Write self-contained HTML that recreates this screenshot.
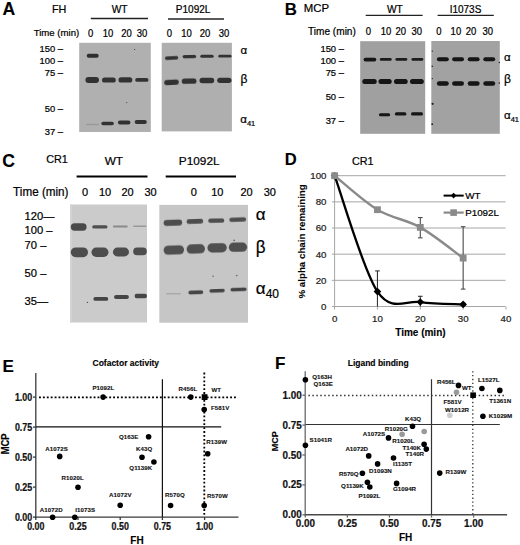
<!DOCTYPE html>
<html><head><meta charset="utf-8"><style>
html,body{margin:0;padding:0;background:#fff;width:520px;height:545px;overflow:hidden}
svg{display:block;font-family:"Liberation Sans",sans-serif}
</style></head><body>
<svg width="520" height="545" viewBox="0 0 520 545">
<defs>
<filter id="b1" x="-20%" y="-50%" width="140%" height="200%"><feGaussianBlur stdDeviation="0.55"/></filter>
</defs>
<rect width="520" height="545" fill="#fff"/>
<text x="2.50" y="15.00" font-size="17.6" font-weight="bold" text-anchor="start" fill="#000"  stroke="#000" stroke-width="0.12">A</text>
<text x="52.00" y="12.80" font-size="10.8" font-weight="normal" text-anchor="start" fill="#000"  stroke="#000" stroke-width="0.22">FH</text>
<text x="119.60" y="12.80" font-size="10.2" font-weight="normal" text-anchor="middle" fill="#000"  stroke="#000" stroke-width="0.22">WT</text>
<line x1="90.80" y1="18.50" x2="148.00" y2="18.50" stroke="#222" stroke-width="1.3" />
<text x="193.10" y="12.80" font-size="10.0" font-weight="normal" text-anchor="middle" fill="#000"  stroke="#000" stroke-width="0.22">P1092L</text>
<line x1="168.00" y1="19.00" x2="224.00" y2="19.00" stroke="#222" stroke-width="1.3" />
<text x="33.70" y="36.40" font-size="9.6" font-weight="normal" text-anchor="start" fill="#000"  stroke="#000" stroke-width="0.22">Time (min)</text>
<text x="0" y="0" font-size="9.5" font-weight="normal" text-anchor="middle" fill="#000" transform="translate(90.70 37.00) scale(1.0 1.1)"  stroke="#000" stroke-width="0.22">0</text>
<text x="0" y="0" font-size="9.5" font-weight="normal" text-anchor="middle" fill="#000" transform="translate(108.00 37.00) scale(1.0 1.1)"  stroke="#000" stroke-width="0.22">10</text>
<text x="0" y="0" font-size="9.5" font-weight="normal" text-anchor="middle" fill="#000" transform="translate(126.50 37.00) scale(1.0 1.1)"  stroke="#000" stroke-width="0.22">20</text>
<text x="0" y="0" font-size="9.5" font-weight="normal" text-anchor="middle" fill="#000" transform="translate(142.00 37.00) scale(1.0 1.1)"  stroke="#000" stroke-width="0.22">30</text>
<text x="0" y="0" font-size="9.5" font-weight="normal" text-anchor="middle" fill="#000" transform="translate(169.40 37.00) scale(1.0 1.1)"  stroke="#000" stroke-width="0.22">0</text>
<text x="0" y="0" font-size="9.5" font-weight="normal" text-anchor="middle" fill="#000" transform="translate(186.50 37.00) scale(1.0 1.1)"  stroke="#000" stroke-width="0.22">10</text>
<text x="0" y="0" font-size="9.5" font-weight="normal" text-anchor="middle" fill="#000" transform="translate(205.00 37.00) scale(1.0 1.1)"  stroke="#000" stroke-width="0.22">20</text>
<text x="0" y="0" font-size="9.5" font-weight="normal" text-anchor="middle" fill="#000" transform="translate(224.00 37.00) scale(1.0 1.1)"  stroke="#000" stroke-width="0.22">30</text>
<text x="63.00" y="51.90" font-size="9.4" font-weight="normal" text-anchor="end" fill="#000"  stroke="#000" stroke-width="0.22">150 –</text>
<text x="63.00" y="64.40" font-size="9.4" font-weight="normal" text-anchor="end" fill="#000"  stroke="#000" stroke-width="0.22">100 –</text>
<text x="63.00" y="76.30" font-size="9.4" font-weight="normal" text-anchor="end" fill="#000"  stroke="#000" stroke-width="0.22">75 –</text>
<text x="63.00" y="111.80" font-size="9.4" font-weight="normal" text-anchor="end" fill="#000"  stroke="#000" stroke-width="0.22">50 –</text>
<text x="63.00" y="135.10" font-size="9.4" font-weight="normal" text-anchor="end" fill="#000"  stroke="#000" stroke-width="0.22">37 –</text>
<rect x="79.20" y="42.80" width="71.60" height="89.20" fill="#b0b0b0" />
<rect x="161.70" y="42.80" width="70.20" height="88.60" fill="#afafaf" />
<rect x="86.70" y="53.75" width="12.00" height="3.90" rx="1.95" fill="#2e2e2e" filter="url(#b1)" transform="rotate(0 92.70 55.70)"/>
<rect x="85.40" y="77.05" width="13.60" height="5.90" rx="2.95" fill="#333" filter="url(#b1)" transform="rotate(0 92.20 80.00)"/>
<rect x="102.00" y="77.40" width="13.80" height="5.20" rx="2.60" fill="#333" filter="url(#b1)" transform="rotate(0 108.90 80.00)"/>
<rect x="118.50" y="77.30" width="13.80" height="5.20" rx="2.60" fill="#333" filter="url(#b1)" transform="rotate(0 125.40 79.90)"/>
<rect x="135.20" y="77.95" width="13.30" height="3.90" rx="1.95" fill="#333" filter="url(#b1)" transform="rotate(0 141.85 79.90)"/>
<rect x="86.00" y="123.70" width="13.00" height="1.60" rx="0.80" fill="#9a9a9a" filter="url(#b1)" transform="rotate(0 92.50 124.50)"/>
<rect x="101.30" y="121.70" width="12.60" height="3.60" rx="1.80" fill="#333" filter="url(#b1)" transform="rotate(0 107.60 123.50)"/>
<rect x="117.90" y="120.60" width="12.50" height="3.80" rx="1.90" fill="#333" filter="url(#b1)" transform="rotate(0 124.15 122.50)"/>
<rect x="134.70" y="120.10" width="12.10" height="3.80" rx="1.90" fill="#333" filter="url(#b1)" transform="rotate(0 140.75 122.00)"/>
<circle cx="134.60" cy="49.50" r="0.60" fill="#333" />
<circle cx="126.80" cy="102.60" r="0.60" fill="#444" />
<rect x="164.90" y="56.30" width="13.40" height="3.40" rx="1.70" fill="#333" filter="url(#b1)" transform="rotate(-3 171.60 58.00)"/>
<rect x="182.60" y="54.95" width="13.60" height="3.30" rx="1.65" fill="#333" filter="url(#b1)" transform="rotate(-1 189.40 56.60)"/>
<rect x="200.30" y="54.70" width="13.40" height="3.00" rx="1.50" fill="#333" filter="url(#b1)" transform="rotate(0 207.00 56.20)"/>
<rect x="218.30" y="54.80" width="13.20" height="2.80" rx="1.40" fill="#333" filter="url(#b1)" transform="rotate(0 224.90 56.20)"/>
<rect x="164.20" y="79.65" width="14.60" height="5.30" rx="2.65" fill="#313131" filter="url(#b1)" transform="rotate(-3 171.50 82.30)"/>
<rect x="181.80" y="78.55" width="14.70" height="5.30" rx="2.65" fill="#313131" filter="url(#b1)" transform="rotate(-1 189.15 81.20)"/>
<rect x="199.50" y="77.85" width="14.70" height="5.30" rx="2.65" fill="#313131" filter="url(#b1)" transform="rotate(0 206.85 80.50)"/>
<rect x="217.20" y="77.65" width="14.30" height="5.30" rx="2.65" fill="#313131" filter="url(#b1)" transform="rotate(0 224.35 80.30)"/>
<text x="240.50" y="53.90" font-size="11.5" font-weight="normal" text-anchor="start" fill="#000"  stroke="#000" stroke-width="0.22">α</text>
<text x="240.50" y="83.20" font-size="12" font-weight="normal" text-anchor="start" fill="#000"  stroke="#000" stroke-width="0.22">β</text>
<text x="240.30" y="123.20" font-size="11.5" font-weight="normal" text-anchor="start" fill="#000"  stroke="#000" stroke-width="0.22">α<tspan font-size="7.5" dy="2.5">41</tspan></text>
<text x="284.70" y="14.60" font-size="16.8" font-weight="bold" text-anchor="start" fill="#000"  stroke="#000" stroke-width="0.12">B</text>
<text x="303.80" y="12.20" font-size="11.4" font-weight="normal" text-anchor="start" fill="#000"  stroke="#000" stroke-width="0.22">MCP</text>
<text x="308.00" y="34.90" font-size="10.1" font-weight="normal" text-anchor="start" fill="#000"  stroke="#000" stroke-width="0.22">Time (min)</text>
<text x="394.80" y="12.60" font-size="10.2" font-weight="normal" text-anchor="middle" fill="#000"  stroke="#000" stroke-width="0.22">WT</text>
<line x1="365.70" y1="15.40" x2="422.60" y2="15.40" stroke="#222" stroke-width="1.3" />
<text x="465.50" y="12.60" font-size="10.0" font-weight="normal" text-anchor="middle" fill="#000"  stroke="#000" stroke-width="0.22">I1073S</text>
<line x1="437.60" y1="15.40" x2="493.80" y2="15.40" stroke="#222" stroke-width="1.3" />
<text x="0" y="0" font-size="9.5" font-weight="normal" text-anchor="middle" fill="#000" transform="translate(368.50 35.40) scale(1.0 1.1)"  stroke="#000" stroke-width="0.22">0</text>
<text x="0" y="0" font-size="9.5" font-weight="normal" text-anchor="middle" fill="#000" transform="translate(386.00 35.40) scale(1.0 1.1)"  stroke="#000" stroke-width="0.22">10</text>
<text x="0" y="0" font-size="9.5" font-weight="normal" text-anchor="middle" fill="#000" transform="translate(400.70 35.40) scale(1.0 1.1)"  stroke="#000" stroke-width="0.22">20</text>
<text x="0" y="0" font-size="9.5" font-weight="normal" text-anchor="middle" fill="#000" transform="translate(416.80 35.40) scale(1.0 1.1)"  stroke="#000" stroke-width="0.22">30</text>
<text x="0" y="0" font-size="9.5" font-weight="normal" text-anchor="middle" fill="#000" transform="translate(439.00 35.40) scale(1.0 1.1)"  stroke="#000" stroke-width="0.22">0</text>
<text x="0" y="0" font-size="9.5" font-weight="normal" text-anchor="middle" fill="#000" transform="translate(455.90 35.40) scale(1.0 1.1)"  stroke="#000" stroke-width="0.22">10</text>
<text x="0" y="0" font-size="9.5" font-weight="normal" text-anchor="middle" fill="#000" transform="translate(471.00 35.40) scale(1.0 1.1)"  stroke="#000" stroke-width="0.22">20</text>
<text x="0" y="0" font-size="9.5" font-weight="normal" text-anchor="middle" fill="#000" transform="translate(487.70 35.40) scale(1.0 1.1)"  stroke="#000" stroke-width="0.22">30</text>
<text x="343.90" y="52.10" font-size="9.4" font-weight="normal" text-anchor="end" fill="#000"  stroke="#000" stroke-width="0.22">150 –</text>
<text x="343.90" y="64.40" font-size="9.4" font-weight="normal" text-anchor="end" fill="#000"  stroke="#000" stroke-width="0.22">100 –</text>
<text x="343.90" y="76.30" font-size="9.4" font-weight="normal" text-anchor="end" fill="#000"  stroke="#000" stroke-width="0.22">75 –</text>
<text x="343.90" y="100.10" font-size="9.4" font-weight="normal" text-anchor="end" fill="#000"  stroke="#000" stroke-width="0.22">50 –</text>
<text x="343.90" y="123.60" font-size="9.4" font-weight="normal" text-anchor="end" fill="#000"  stroke="#000" stroke-width="0.22">37 –</text>
<rect x="360.20" y="41.20" width="65.00" height="92.60" fill="#a0a0a0" />
<rect x="431.30" y="41.00" width="68.50" height="92.80" fill="#a2a2a2" />
<circle cx="432.30" cy="51.10" r="0.70" fill="#222" />
<circle cx="432.30" cy="66.20" r="0.80" fill="#222" />
<circle cx="432.30" cy="78.60" r="0.70" fill="#222" />
<circle cx="432.60" cy="103.80" r="1.10" fill="#222" />
<circle cx="432.20" cy="124.20" r="0.90" fill="#222" />
<circle cx="499.30" cy="62.50" r="0.70" fill="#222" />
<circle cx="499.30" cy="83.00" r="0.80" fill="#222" />
<rect x="363.60" y="57.70" width="12.70" height="3.80" rx="1.90" fill="#141414" filter="url(#b1)" transform="rotate(0 369.95 59.60)"/>
<rect x="379.80" y="58.05" width="11.90" height="2.70" rx="1.35" fill="#1c1c1c" filter="url(#b1)" transform="rotate(0 385.75 59.40)"/>
<rect x="395.40" y="58.05" width="11.90" height="2.70" rx="1.35" fill="#1c1c1c" filter="url(#b1)" transform="rotate(0 401.35 59.40)"/>
<rect x="411.50" y="58.05" width="11.80" height="2.70" rx="1.35" fill="#1c1c1c" filter="url(#b1)" transform="rotate(0 417.40 59.40)"/>
<rect x="362.30" y="79.00" width="14.40" height="5.00" rx="2.50" fill="#121212" filter="url(#b1)" transform="rotate(0 369.50 81.50)"/>
<rect x="378.50" y="79.00" width="13.20" height="5.00" rx="2.50" fill="#121212" filter="url(#b1)" transform="rotate(0 385.10 81.50)"/>
<rect x="394.00" y="79.00" width="13.70" height="5.00" rx="2.50" fill="#121212" filter="url(#b1)" transform="rotate(0 400.85 81.50)"/>
<rect x="410.00" y="79.00" width="13.80" height="5.00" rx="2.50" fill="#121212" filter="url(#b1)" transform="rotate(0 416.90 81.50)"/>
<rect x="378.90" y="113.25" width="11.30" height="3.10" rx="1.55" fill="#161616" filter="url(#b1)" transform="rotate(0 384.55 114.80)"/>
<rect x="394.80" y="112.35" width="11.60" height="3.10" rx="1.55" fill="#161616" filter="url(#b1)" transform="rotate(0 400.60 113.90)"/>
<rect x="411.00" y="112.35" width="12.00" height="3.10" rx="1.55" fill="#161616" filter="url(#b1)" transform="rotate(0 417.00 113.90)"/>
<rect x="436.90" y="57.30" width="11.90" height="4.00" rx="2.00" fill="#141414" filter="url(#b1)" transform="rotate(0 442.85 59.30)"/>
<rect x="452.10" y="57.30" width="11.90" height="4.00" rx="2.00" fill="#141414" filter="url(#b1)" transform="rotate(0 458.05 59.30)"/>
<rect x="467.70" y="57.30" width="11.90" height="4.00" rx="2.00" fill="#141414" filter="url(#b1)" transform="rotate(0 473.65 59.30)"/>
<rect x="483.30" y="57.30" width="11.90" height="4.00" rx="2.00" fill="#141414" filter="url(#b1)" transform="rotate(0 489.25 59.30)"/>
<rect x="436.90" y="81.25" width="11.90" height="4.50" rx="2.25" fill="#141414" filter="url(#b1)" transform="rotate(0 442.85 83.50)"/>
<rect x="452.10" y="81.25" width="11.90" height="4.50" rx="2.25" fill="#141414" filter="url(#b1)" transform="rotate(0 458.05 83.50)"/>
<rect x="467.70" y="81.25" width="11.90" height="4.50" rx="2.25" fill="#141414" filter="url(#b1)" transform="rotate(0 473.65 83.50)"/>
<rect x="483.30" y="81.25" width="11.90" height="4.50" rx="2.25" fill="#141414" filter="url(#b1)" transform="rotate(0 489.25 83.50)"/>
<text x="504.00" y="61.00" font-size="11.5" font-weight="normal" text-anchor="start" fill="#000"  stroke="#000" stroke-width="0.22">α</text>
<text x="504.00" y="83.40" font-size="12" font-weight="normal" text-anchor="start" fill="#000"  stroke="#000" stroke-width="0.22">β</text>
<text x="504.00" y="119.30" font-size="11.5" font-weight="normal" text-anchor="start" fill="#000"  stroke="#000" stroke-width="0.22">α<tspan font-size="7.5" dy="2.5">41</tspan></text>
<text x="2.20" y="166.50" font-size="17.6" font-weight="bold" text-anchor="start" fill="#000"  stroke="#000" stroke-width="0.12">C</text>
<text x="46.20" y="162.50" font-size="10.8" font-weight="normal" text-anchor="start" fill="#000"  stroke="#000" stroke-width="0.22">CR1</text>
<text x="113.80" y="164.70" font-size="11.8" font-weight="normal" text-anchor="middle" fill="#000"  stroke="#000" stroke-width="0.22">WT</text>
<text x="199.20" y="164.70" font-size="11.8" font-weight="normal" text-anchor="middle" fill="#000"  stroke="#000" stroke-width="0.22">P1092L</text>
<line x1="76.60" y1="176.50" x2="147.50" y2="176.50" stroke="#000" stroke-width="1.8" />
<line x1="165.70" y1="176.50" x2="236.00" y2="176.50" stroke="#000" stroke-width="1.8" />
<text x="0" y="0" font-size="11.7" font-weight="normal" text-anchor="start" fill="#000" transform="translate(13.10 196.30) scale(1.0 1.04)"  stroke="#000" stroke-width="0.22">Time (min)</text>
<text x="85.00" y="196.00" font-size="11" font-weight="normal" text-anchor="middle" fill="#000"  stroke="#000" stroke-width="0.22">0</text>
<text x="105.10" y="196.00" font-size="11" font-weight="normal" text-anchor="middle" fill="#000"  stroke="#000" stroke-width="0.22">10</text>
<text x="127.50" y="196.00" font-size="11" font-weight="normal" text-anchor="middle" fill="#000"  stroke="#000" stroke-width="0.22">20</text>
<text x="150.50" y="196.00" font-size="11" font-weight="normal" text-anchor="middle" fill="#000"  stroke="#000" stroke-width="0.22">30</text>
<text x="193.80" y="196.00" font-size="11" font-weight="normal" text-anchor="middle" fill="#000"  stroke="#000" stroke-width="0.22">0</text>
<text x="217.30" y="196.00" font-size="11" font-weight="normal" text-anchor="middle" fill="#000"  stroke="#000" stroke-width="0.22">10</text>
<text x="246.50" y="196.00" font-size="11" font-weight="normal" text-anchor="middle" fill="#000"  stroke="#000" stroke-width="0.22">20</text>
<text x="269.80" y="196.00" font-size="11" font-weight="normal" text-anchor="middle" fill="#000"  stroke="#000" stroke-width="0.22">30</text>
<text x="24.60" y="219.60" font-size="11.2" font-weight="normal" text-anchor="start" fill="#000"  stroke="#000" stroke-width="0.22">120—</text>
<text x="24.60" y="233.70" font-size="11.2" font-weight="normal" text-anchor="start" fill="#000"  stroke="#000" stroke-width="0.22">100 –</text>
<text x="24.60" y="248.60" font-size="11.2" font-weight="normal" text-anchor="start" fill="#000"  stroke="#000" stroke-width="0.22">70 –</text>
<text x="24.60" y="276.50" font-size="11.2" font-weight="normal" text-anchor="start" fill="#000"  stroke="#000" stroke-width="0.22">50 –</text>
<text x="24.60" y="304.50" font-size="11.2" font-weight="normal" text-anchor="start" fill="#000"  stroke="#000" stroke-width="0.22">35—</text>
<rect x="70.20" y="204.50" width="76.80" height="118.00" fill="#cbcbcb" />
<rect x="70.20" y="204.50" width="1.80" height="118.00" fill="#d3d3d3" />
<circle cx="87.40" cy="302.40" r="0.70" fill="#555" />
<rect x="159.30" y="204.90" width="88.70" height="117.80" fill="#c6c6c6" />
<rect x="70.80" y="223.30" width="15.80" height="7.40" rx="3.70" fill="#4a4a4a" filter="url(#b1)" transform="rotate(0 78.70 227.00)"/>
<rect x="92.20" y="225.20" width="15.30" height="3.40" rx="1.70" fill="#4f4f4f" filter="url(#b1)" transform="rotate(0 99.85 226.90)"/>
<rect x="112.90" y="225.50" width="14.80" height="2.00" rx="1.00" fill="#8a8a8a" filter="url(#b1)" transform="rotate(0 120.30 226.50)"/>
<rect x="133.00" y="225.50" width="13.50" height="1.60" rx="0.80" fill="#999" filter="url(#b1)" transform="rotate(0 139.75 226.30)"/>
<rect x="70.80" y="247.40" width="17.20" height="9.80" rx="4.90" fill="#4d4d4d" filter="url(#b1)" transform="rotate(0 79.40 252.30)"/>
<rect x="91.50" y="247.60" width="17.00" height="9.40" rx="4.70" fill="#4d4d4d" filter="url(#b1)" transform="rotate(0 100.00 252.30)"/>
<rect x="112.90" y="247.60" width="16.10" height="8.80" rx="4.40" fill="#4d4d4d" filter="url(#b1)" transform="rotate(0 120.95 252.00)"/>
<rect x="133.20" y="247.60" width="13.60" height="7.60" rx="3.80" fill="#4d4d4d" filter="url(#b1)" transform="rotate(0 140.00 251.40)"/>
<rect x="93.40" y="297.00" width="14.80" height="3.80" rx="1.90" fill="#444" filter="url(#b1)" transform="rotate(0 100.80 298.90)"/>
<rect x="114.00" y="294.90" width="14.90" height="4.20" rx="2.10" fill="#444" filter="url(#b1)" transform="rotate(0 121.45 297.00)"/>
<rect x="134.60" y="293.80" width="12.40" height="4.40" rx="2.20" fill="#444" filter="url(#b1)" transform="rotate(0 140.80 296.00)"/>
<rect x="163.60" y="219.75" width="18.60" height="6.10" rx="3.05" fill="#4d4d4d" filter="url(#b1)" transform="rotate(-2 172.90 222.80)"/>
<rect x="186.60" y="219.10" width="16.60" height="4.60" rx="2.30" fill="#4d4d4d" filter="url(#b1)" transform="rotate(-2 194.90 221.40)"/>
<rect x="208.20" y="218.60" width="16.10" height="4.20" rx="2.10" fill="#4d4d4d" filter="url(#b1)" transform="rotate(-1 216.25 220.70)"/>
<rect x="229.30" y="217.60" width="16.80" height="4.20" rx="2.10" fill="#4d4d4d" filter="url(#b1)" transform="rotate(-2 237.70 219.70)"/>
<rect x="163.60" y="245.40" width="20.50" height="9.20" rx="4.60" fill="#505050" filter="url(#b1)" transform="rotate(-2 173.85 250.00)"/>
<rect x="186.60" y="244.30" width="18.40" height="9.20" rx="4.60" fill="#505050" filter="url(#b1)" transform="rotate(-2 195.80 248.90)"/>
<rect x="207.40" y="243.20" width="19.40" height="9.20" rx="4.60" fill="#505050" filter="url(#b1)" transform="rotate(-1 217.10 247.80)"/>
<rect x="228.80" y="242.60" width="18.30" height="9.20" rx="4.60" fill="#505050" filter="url(#b1)" transform="rotate(-1 237.95 247.20)"/>
<rect x="166.00" y="292.90" width="15.00" height="1.60" rx="0.80" fill="#aaa" filter="url(#b1)" transform="rotate(0 173.50 293.70)"/>
<rect x="188.40" y="290.60" width="14.80" height="3.60" rx="1.80" fill="#444" filter="url(#b1)" transform="rotate(-2 195.80 292.40)"/>
<rect x="209.40" y="288.90" width="15.40" height="3.60" rx="1.80" fill="#444" filter="url(#b1)" transform="rotate(-2 217.10 290.70)"/>
<rect x="230.50" y="287.70" width="16.10" height="3.60" rx="1.80" fill="#444" filter="url(#b1)" transform="rotate(-2 238.55 289.50)"/>
<circle cx="213.10" cy="276.30" r="0.80" fill="#666" />
<circle cx="236.70" cy="275.60" r="0.80" fill="#666" />
<circle cx="234.20" cy="240.40" r="0.80" fill="#666" />
<text x="255.80" y="219.90" font-size="17" font-weight="normal" text-anchor="start" fill="#000"  stroke="#000" stroke-width="0.22">α</text>
<text x="0" y="0" font-size="17" font-weight="normal" text-anchor="start" fill="#000" transform="translate(255.80 253.20) scale(1.0 1.12)"  stroke="#000" stroke-width="0.22">β</text>
<text x="255.80" y="294.30" font-size="17" font-weight="normal" text-anchor="start" fill="#000"  stroke="#000" stroke-width="0.22">α<tspan font-size="12" dy="4">40</tspan></text>
<text x="284.70" y="165.20" font-size="16.6" font-weight="bold" text-anchor="start" fill="#000"  stroke="#000" stroke-width="0.12">D</text>
<text x="351.90" y="164.60" font-size="10.8" font-weight="normal" text-anchor="start" fill="#000"  stroke="#000" stroke-width="0.22">CR1</text>
<line x1="331.80" y1="280.34" x2="505.60" y2="280.34" stroke="#a6a6a6" stroke-width="1" />
<line x1="331.80" y1="254.18" x2="505.60" y2="254.18" stroke="#a6a6a6" stroke-width="1" />
<line x1="331.80" y1="228.02" x2="505.60" y2="228.02" stroke="#a6a6a6" stroke-width="1" />
<line x1="331.80" y1="201.86" x2="505.60" y2="201.86" stroke="#a6a6a6" stroke-width="1" />
<line x1="331.80" y1="175.70" x2="505.60" y2="175.70" stroke="#a6a6a6" stroke-width="1" />
<line x1="331.80" y1="306.50" x2="505.60" y2="306.50" stroke="#a6a6a6" stroke-width="1" />
<line x1="334.60" y1="175.70" x2="334.60" y2="309.50" stroke="#a6a6a6" stroke-width="1" />
<line x1="377.45" y1="306.50" x2="377.45" y2="309.50" stroke="#a6a6a6" stroke-width="1" />
<line x1="420.30" y1="306.50" x2="420.30" y2="309.50" stroke="#a6a6a6" stroke-width="1" />
<line x1="463.15" y1="306.50" x2="463.15" y2="309.50" stroke="#a6a6a6" stroke-width="1" />
<line x1="506.00" y1="306.50" x2="506.00" y2="309.50" stroke="#a6a6a6" stroke-width="1" />
<text x="326.50" y="309.90" font-size="9.7" font-weight="normal" text-anchor="end" fill="#222"  stroke="#222" stroke-width="0.22">0</text>
<text x="326.50" y="283.74" font-size="9.7" font-weight="normal" text-anchor="end" fill="#222"  stroke="#222" stroke-width="0.22">20</text>
<text x="326.50" y="257.58" font-size="9.7" font-weight="normal" text-anchor="end" fill="#222"  stroke="#222" stroke-width="0.22">40</text>
<text x="326.50" y="231.42" font-size="9.7" font-weight="normal" text-anchor="end" fill="#222"  stroke="#222" stroke-width="0.22">60</text>
<text x="326.50" y="205.26" font-size="9.7" font-weight="normal" text-anchor="end" fill="#222"  stroke="#222" stroke-width="0.22">80</text>
<text x="326.50" y="179.10" font-size="9.7" font-weight="normal" text-anchor="end" fill="#222"  stroke="#222" stroke-width="0.22">100</text>
<text x="334.60" y="322.00" font-size="9.7" font-weight="normal" text-anchor="middle" fill="#222"  stroke="#222" stroke-width="0.22">0</text>
<text x="377.45" y="322.00" font-size="9.7" font-weight="normal" text-anchor="middle" fill="#222"  stroke="#222" stroke-width="0.22">10</text>
<text x="420.30" y="322.00" font-size="9.7" font-weight="normal" text-anchor="middle" fill="#222"  stroke="#222" stroke-width="0.22">20</text>
<text x="463.15" y="322.00" font-size="9.7" font-weight="normal" text-anchor="middle" fill="#222"  stroke="#222" stroke-width="0.22">30</text>
<text x="506.00" y="322.00" font-size="9.7" font-weight="normal" text-anchor="middle" fill="#222"  stroke="#222" stroke-width="0.22">40</text>
<text x="420.40" y="336.00" font-size="10" font-weight="bold" text-anchor="middle" fill="#000"  stroke="#000" stroke-width="0.12">Time (min)</text>
<text x="0.00" y="0.00" font-size="9.75" font-weight="bold" text-anchor="middle" fill="#000" transform="translate(304.8 241.4) rotate(-90)" stroke="#000" stroke-width="0.12">% alpha chain remaining</text>
<line x1="377.45" y1="270.92" x2="377.45" y2="306.50" stroke="#333" stroke-width="1.1" />
<line x1="375.15" y1="270.92" x2="379.75" y2="270.92" stroke="#333" stroke-width="1.1" />
<line x1="420.30" y1="296.30" x2="420.30" y2="306.50" stroke="#333" stroke-width="1.1" />
<line x1="418.00" y1="296.30" x2="422.60" y2="296.30" stroke="#333" stroke-width="1.1" />
<line x1="463.15" y1="303.23" x2="463.15" y2="306.50" stroke="#333" stroke-width="1.1" />
<line x1="460.85" y1="303.23" x2="465.45" y2="303.23" stroke="#333" stroke-width="1.1" />
<path d="M334.60,175.70 C341.74,195.01 363.17,270.53 377.45,291.59 C391.73,312.65 406.02,299.92 420.30,302.05 C434.58,304.19 456.01,304.01 463.15,304.41" fill="none" stroke="#000" stroke-width="2.3"/>
<rect x="331.90" y="173.00" width="5.4" height="5.4" fill="#000" transform="rotate(45 334.60 175.70)"/>
<rect x="374.75" y="288.89" width="5.4" height="5.4" fill="#000" transform="rotate(45 377.45 291.59)"/>
<rect x="417.60" y="299.35" width="5.4" height="5.4" fill="#000" transform="rotate(45 420.30 302.05)"/>
<rect x="460.45" y="301.71" width="5.4" height="5.4" fill="#000" transform="rotate(45 463.15 304.41)"/>
<line x1="420.30" y1="217.56" x2="420.30" y2="237.83" stroke="#4a4a4a" stroke-width="1.1" />
<line x1="418.00" y1="217.56" x2="422.60" y2="217.56" stroke="#4a4a4a" stroke-width="1.1" />
<line x1="418.00" y1="237.83" x2="422.60" y2="237.83" stroke="#4a4a4a" stroke-width="1.1" />
<line x1="463.15" y1="226.71" x2="463.15" y2="289.10" stroke="#4a4a4a" stroke-width="1.1" />
<line x1="460.85" y1="226.71" x2="465.45" y2="226.71" stroke="#4a4a4a" stroke-width="1.1" />
<line x1="460.85" y1="289.10" x2="465.45" y2="289.10" stroke="#4a4a4a" stroke-width="1.1" />
<path d="M334.60,175.70 C341.74,181.37 363.17,201.10 377.45,209.71 C391.73,218.32 406.02,219.30 420.30,227.37 C434.58,235.43 456.01,252.98 463.15,258.10" fill="none" stroke="#8a8a8a" stroke-width="2.4"/>
<rect x="331.20" y="172.30" width="6.80" height="6.80" fill="#8a8a8a" />
<rect x="374.05" y="206.31" width="6.80" height="6.80" fill="#8a8a8a" />
<rect x="416.90" y="223.97" width="6.80" height="6.80" fill="#8a8a8a" />
<rect x="459.75" y="254.70" width="6.80" height="6.80" fill="#8a8a8a" />
<line x1="443.60" y1="195.60" x2="463.70" y2="195.60" stroke="#000" stroke-width="2" />
<rect x="451.6" y="193.6" width="4" height="4" fill="#000" transform="rotate(45 453.6 195.6)"/>
<text x="465.20" y="199.20" font-size="9.8" font-weight="normal" text-anchor="start" fill="#000"  stroke="#000" stroke-width="0.22">WT</text>
<line x1="443.60" y1="212.60" x2="463.70" y2="212.60" stroke="#8a8a8a" stroke-width="2.2" />
<rect x="450.30" y="209.30" width="6.60" height="6.60" fill="#8a8a8a" />
<text x="465.20" y="216.20" font-size="9.8" font-weight="normal" text-anchor="start" fill="#000"  stroke="#000" stroke-width="0.22">P1092L</text>
<text x="2.40" y="372.40" font-size="17" font-weight="bold" text-anchor="start" fill="#000"  stroke="#000" stroke-width="0.12">E</text>
<text x="92.50" y="366.40" font-size="8.5" font-weight="bold" text-anchor="start" fill="#000"  stroke="#000" stroke-width="0.12">Cofactor activity</text>
<line x1="35.80" y1="373.00" x2="35.80" y2="517.70" stroke="#3a3a3a" stroke-width="1.3" />
<line x1="35.20" y1="517.10" x2="238.50" y2="517.10" stroke="#3a3a3a" stroke-width="1.3" />
<line x1="33.00" y1="517.10" x2="35.80" y2="517.10" stroke="#3a3a3a" stroke-width="1.3" />
<line x1="35.80" y1="517.10" x2="35.80" y2="520.00" stroke="#3a3a3a" stroke-width="1.3" />
<line x1="33.00" y1="487.10" x2="35.80" y2="487.10" stroke="#3a3a3a" stroke-width="1.3" />
<line x1="78.00" y1="517.10" x2="78.00" y2="520.00" stroke="#3a3a3a" stroke-width="1.3" />
<line x1="33.00" y1="457.10" x2="35.80" y2="457.10" stroke="#3a3a3a" stroke-width="1.3" />
<line x1="120.20" y1="517.10" x2="120.20" y2="520.00" stroke="#3a3a3a" stroke-width="1.3" />
<line x1="33.00" y1="427.10" x2="35.80" y2="427.10" stroke="#3a3a3a" stroke-width="1.3" />
<line x1="162.40" y1="517.10" x2="162.40" y2="520.00" stroke="#3a3a3a" stroke-width="1.3" />
<line x1="33.00" y1="397.10" x2="35.80" y2="397.10" stroke="#3a3a3a" stroke-width="1.3" />
<line x1="204.60" y1="517.10" x2="204.60" y2="520.00" stroke="#3a3a3a" stroke-width="1.3" />
<text x="0" y="0" font-size="8.9" font-weight="bold" text-anchor="end" fill="#111" transform="translate(32.20 520.60) scale(1.0 1.14)" stroke="#111" stroke-width="0.2">0.00</text>
<text x="0" y="0" font-size="8.9" font-weight="bold" text-anchor="middle" fill="#111" transform="translate(35.80 529.70) scale(1.0 1.14)" stroke="#111" stroke-width="0.2">0.00</text>
<text x="0" y="0" font-size="8.9" font-weight="bold" text-anchor="end" fill="#111" transform="translate(32.20 490.60) scale(1.0 1.14)" stroke="#111" stroke-width="0.2">0.25</text>
<text x="0" y="0" font-size="8.9" font-weight="bold" text-anchor="middle" fill="#111" transform="translate(78.00 529.70) scale(1.0 1.14)" stroke="#111" stroke-width="0.2">0.25</text>
<text x="0" y="0" font-size="8.9" font-weight="bold" text-anchor="end" fill="#111" transform="translate(32.20 460.60) scale(1.0 1.14)" stroke="#111" stroke-width="0.2">0.50</text>
<text x="0" y="0" font-size="8.9" font-weight="bold" text-anchor="middle" fill="#111" transform="translate(120.20 529.70) scale(1.0 1.14)" stroke="#111" stroke-width="0.2">0.50</text>
<text x="0" y="0" font-size="8.9" font-weight="bold" text-anchor="end" fill="#111" transform="translate(32.20 430.60) scale(1.0 1.14)" stroke="#111" stroke-width="0.2">0.75</text>
<text x="0" y="0" font-size="8.9" font-weight="bold" text-anchor="middle" fill="#111" transform="translate(162.40 529.70) scale(1.0 1.14)" stroke="#111" stroke-width="0.2">0.75</text>
<text x="0" y="0" font-size="8.9" font-weight="bold" text-anchor="end" fill="#111" transform="translate(32.20 400.60) scale(1.0 1.14)" stroke="#111" stroke-width="0.2">1.00</text>
<text x="0" y="0" font-size="8.9" font-weight="bold" text-anchor="middle" fill="#111" transform="translate(204.60 529.70) scale(1.0 1.14)" stroke="#111" stroke-width="0.2">1.00</text>
<text x="137.00" y="543.90" font-size="10" font-weight="bold" text-anchor="middle" fill="#000"  stroke="#000" stroke-width="0.12">FH</text>
<text x="0.00" y="0.00" font-size="9.4" font-weight="bold" text-anchor="middle" fill="#000" transform="translate(9.4 443.8) rotate(-90) scale(1 1.1)" stroke="#000" stroke-width="0.12">MCP</text>
<line x1="39.00" y1="397.40" x2="236.50" y2="397.40" stroke="#000" stroke-width="1.9" stroke-dasharray="1.9 2.0"/>
<line x1="204.30" y1="372.60" x2="204.30" y2="517.00" stroke="#000" stroke-width="1.8" stroke-dasharray="1.8 2.1"/>
<line x1="36.00" y1="426.90" x2="221.20" y2="426.90" stroke="#111" stroke-width="1.2" />
<line x1="162.40" y1="379.20" x2="162.40" y2="517.00" stroke="#111" stroke-width="1.2" />
<circle cx="103.10" cy="397.10" r="2.80" fill="#000" />
<text x="103.40" y="390.40" font-size="6.1" font-weight="bold" text-anchor="middle" fill="#111" letter-spacing="0.1" stroke="#111" stroke-width="0.12">P1092L</text>
<circle cx="190.80" cy="397.10" r="2.80" fill="#000" />
<text x="188.00" y="390.70" font-size="6.1" font-weight="bold" text-anchor="middle" fill="#111" letter-spacing="0.1" stroke="#111" stroke-width="0.12">R456L</text>
<circle cx="204.20" cy="409.60" r="2.80" fill="#000" />
<text x="211.00" y="409.90" font-size="6.1" font-weight="bold" text-anchor="start" fill="#111" letter-spacing="0.1" stroke="#111" stroke-width="0.12">F581V</text>
<circle cx="148.60" cy="436.70" r="2.80" fill="#000" />
<text x="138.50" y="438.60" font-size="6.1" font-weight="bold" text-anchor="end" fill="#111" letter-spacing="0.1" stroke="#111" stroke-width="0.12">Q163E</text>
<circle cx="142.00" cy="457.20" r="2.80" fill="#000" />
<text x="144.20" y="450.60" font-size="6.1" font-weight="bold" text-anchor="middle" fill="#111" letter-spacing="0.1" stroke="#111" stroke-width="0.12">K43Q</text>
<circle cx="153.90" cy="462.00" r="2.80" fill="#000" />
<text x="152.30" y="470.10" font-size="6.1" font-weight="bold" text-anchor="end" fill="#111" letter-spacing="0.1" stroke="#111" stroke-width="0.12">Q1139K</text>
<circle cx="207.70" cy="453.80" r="2.80" fill="#000" />
<text x="206.20" y="444.20" font-size="6.1" font-weight="bold" text-anchor="start" fill="#111" letter-spacing="0.1" stroke="#111" stroke-width="0.12">R139W</text>
<circle cx="59.70" cy="456.40" r="2.80" fill="#000" />
<text x="56.50" y="450.60" font-size="6.1" font-weight="bold" text-anchor="middle" fill="#111" letter-spacing="0.1" stroke="#111" stroke-width="0.12">A1072S</text>
<circle cx="78.00" cy="487.20" r="2.80" fill="#000" />
<text x="72.60" y="480.40" font-size="6.1" font-weight="bold" text-anchor="middle" fill="#111" letter-spacing="0.1" stroke="#111" stroke-width="0.12">R1020L</text>
<circle cx="52.60" cy="517.30" r="2.80" fill="#000" />
<text x="51.20" y="511.70" font-size="6.1" font-weight="bold" text-anchor="middle" fill="#111" letter-spacing="0.1" stroke="#111" stroke-width="0.12">A1072D</text>
<circle cx="74.80" cy="517.30" r="2.80" fill="#000" />
<text x="75.20" y="511.70" font-size="6.1" font-weight="bold" text-anchor="start" fill="#111" letter-spacing="0.1" stroke="#111" stroke-width="0.12">I1073S</text>
<circle cx="120.20" cy="505.30" r="2.80" fill="#000" />
<text x="120.30" y="496.90" font-size="6.1" font-weight="bold" text-anchor="middle" fill="#111" letter-spacing="0.1" stroke="#111" stroke-width="0.12">A1072V</text>
<circle cx="170.60" cy="505.50" r="2.80" fill="#000" />
<text x="175.00" y="496.90" font-size="6.1" font-weight="bold" text-anchor="middle" fill="#111" letter-spacing="0.1" stroke="#111" stroke-width="0.12">R570Q</text>
<circle cx="204.20" cy="505.60" r="2.80" fill="#000" />
<text x="207.10" y="497.90" font-size="6.1" font-weight="bold" text-anchor="start" fill="#111" letter-spacing="0.1" stroke="#111" stroke-width="0.12">R570W</text>
<rect x="201.70" y="394.20" width="5.80" height="5.80" fill="#000" />
<text x="211.50" y="392.00" font-size="6.1" font-weight="bold" text-anchor="start" fill="#111"  stroke="#111" stroke-width="0.12">WT</text>
<text x="275.10" y="369.40" font-size="17" font-weight="bold" text-anchor="start" fill="#000"  stroke="#000" stroke-width="0.12">F</text>
<text x="347.70" y="365.80" font-size="8.5" font-weight="bold" text-anchor="start" fill="#000"  stroke="#000" stroke-width="0.12">Ligand binding</text>
<line x1="305.20" y1="371.20" x2="305.20" y2="515.50" stroke="#6a6a6a" stroke-width="1.3" />
<line x1="304.60" y1="514.80" x2="507.10" y2="514.80" stroke="#4a4a4a" stroke-width="1.5" />
<line x1="302.40" y1="514.80" x2="305.20" y2="514.80" stroke="#6a6a6a" stroke-width="1.3" />
<line x1="305.30" y1="514.80" x2="305.30" y2="517.60" stroke="#6a6a6a" stroke-width="1.3" />
<line x1="302.40" y1="484.90" x2="305.20" y2="484.90" stroke="#6a6a6a" stroke-width="1.3" />
<line x1="347.38" y1="514.80" x2="347.38" y2="517.60" stroke="#6a6a6a" stroke-width="1.3" />
<line x1="302.40" y1="455.00" x2="305.20" y2="455.00" stroke="#6a6a6a" stroke-width="1.3" />
<line x1="389.45" y1="514.80" x2="389.45" y2="517.60" stroke="#6a6a6a" stroke-width="1.3" />
<line x1="302.40" y1="425.10" x2="305.20" y2="425.10" stroke="#6a6a6a" stroke-width="1.3" />
<line x1="431.53" y1="514.80" x2="431.53" y2="517.60" stroke="#6a6a6a" stroke-width="1.3" />
<line x1="302.40" y1="395.20" x2="305.20" y2="395.20" stroke="#6a6a6a" stroke-width="1.3" />
<line x1="473.60" y1="514.80" x2="473.60" y2="517.60" stroke="#6a6a6a" stroke-width="1.3" />
<text x="0" y="0" font-size="9.9" font-weight="bold" text-anchor="end" fill="#111" transform="translate(301.80 518.30) scale(1.0 1.12)" stroke="#111" stroke-width="0.2">0.00</text>
<text x="0" y="0" font-size="9.9" font-weight="bold" text-anchor="middle" fill="#111" transform="translate(305.30 527.40) scale(1.0 1.12)" stroke="#111" stroke-width="0.2">0.00</text>
<text x="0" y="0" font-size="9.9" font-weight="bold" text-anchor="end" fill="#111" transform="translate(301.80 488.40) scale(1.0 1.12)" stroke="#111" stroke-width="0.2">0.25</text>
<text x="0" y="0" font-size="9.9" font-weight="bold" text-anchor="middle" fill="#111" transform="translate(347.38 527.40) scale(1.0 1.12)" stroke="#111" stroke-width="0.2">0.25</text>
<text x="0" y="0" font-size="9.9" font-weight="bold" text-anchor="end" fill="#111" transform="translate(301.80 458.50) scale(1.0 1.12)" stroke="#111" stroke-width="0.2">0.50</text>
<text x="0" y="0" font-size="9.9" font-weight="bold" text-anchor="middle" fill="#111" transform="translate(389.45 527.40) scale(1.0 1.12)" stroke="#111" stroke-width="0.2">0.50</text>
<text x="0" y="0" font-size="9.9" font-weight="bold" text-anchor="end" fill="#111" transform="translate(301.80 428.60) scale(1.0 1.12)" stroke="#111" stroke-width="0.2">0.75</text>
<text x="0" y="0" font-size="9.9" font-weight="bold" text-anchor="middle" fill="#111" transform="translate(431.53 527.40) scale(1.0 1.12)" stroke="#111" stroke-width="0.2">0.75</text>
<text x="0" y="0" font-size="9.9" font-weight="bold" text-anchor="end" fill="#111" transform="translate(301.80 398.70) scale(1.0 1.12)" stroke="#111" stroke-width="0.2">1.00</text>
<text x="0" y="0" font-size="9.9" font-weight="bold" text-anchor="middle" fill="#111" transform="translate(473.60 527.40) scale(1.0 1.12)" stroke="#111" stroke-width="0.2">1.00</text>
<text x="405.60" y="541.10" font-size="10" font-weight="bold" text-anchor="middle" fill="#000"  stroke="#000" stroke-width="0.12">FH</text>
<text x="0.00" y="0.00" font-size="9" font-weight="bold" text-anchor="middle" fill="#000" transform="translate(278.1 441.2) rotate(-90)" stroke="#000" stroke-width="0.12">MCP</text>
<line x1="308.40" y1="395.50" x2="504.60" y2="395.50" stroke="#333" stroke-width="1.4" stroke-dasharray="1.5 2.46"/>
<line x1="472.80" y1="371.20" x2="472.80" y2="514.80" stroke="#333" stroke-width="1.3" stroke-dasharray="1.3 2.53"/>
<line x1="305.50" y1="424.50" x2="499.80" y2="424.50" stroke="#333" stroke-width="1.2" />
<line x1="431.50" y1="379.20" x2="431.50" y2="514.80" stroke="#333" stroke-width="1.2" />
<circle cx="305.40" cy="379.80" r="2.80" fill="#000" />
<circle cx="305.40" cy="445.20" r="2.80" fill="#000" />
<circle cx="412.50" cy="426.30" r="2.80" fill="#000" />
<circle cx="402.10" cy="434.20" r="2.80" fill="#999" />
<circle cx="424.20" cy="431.50" r="2.80" fill="#999" />
<circle cx="388.50" cy="437.90" r="2.80" fill="#000" />
<circle cx="424.10" cy="444.20" r="2.80" fill="#000" />
<circle cx="426.30" cy="449.10" r="2.80" fill="#000" />
<circle cx="368.70" cy="455.90" r="2.80" fill="#000" />
<circle cx="393.50" cy="458.00" r="2.80" fill="#000" />
<circle cx="377.60" cy="463.90" r="2.80" fill="#000" />
<circle cx="362.40" cy="473.20" r="2.80" fill="#000" />
<circle cx="367.40" cy="482.30" r="2.80" fill="#000" />
<circle cx="369.80" cy="487.00" r="2.80" fill="#000" />
<circle cx="396.60" cy="483.40" r="2.80" fill="#000" />
<circle cx="439.70" cy="473.10" r="2.80" fill="#000" />
<circle cx="458.50" cy="385.40" r="2.80" fill="#000" />
<circle cx="456.50" cy="392.30" r="2.80" fill="#999" />
<circle cx="449.80" cy="415.20" r="2.80" fill="#ccc" />
<circle cx="481.90" cy="388.50" r="2.80" fill="#000" />
<circle cx="499.80" cy="390.40" r="2.80" fill="#000" />
<circle cx="482.90" cy="416.20" r="2.80" fill="#000" />
<rect x="470.30" y="392.40" width="5.60" height="5.60" fill="#000" />
<text x="312.30" y="378.70" font-size="6.2" font-weight="bold" text-anchor="start" fill="#111"  stroke="#111" stroke-width="0.12">Q163H</text>
<text x="313.50" y="386.40" font-size="6.2" font-weight="bold" text-anchor="start" fill="#111"  stroke="#111" stroke-width="0.12">Q163E</text>
<text x="309.60" y="441.60" font-size="6.2" font-weight="bold" text-anchor="start" fill="#111"  stroke="#111" stroke-width="0.12">S1041R</text>
<text x="405.00" y="420.90" font-size="6.2" font-weight="bold" text-anchor="start" fill="#111"  stroke="#111" stroke-width="0.12">K43Q</text>
<text x="384.80" y="430.70" font-size="6.2" font-weight="bold" text-anchor="start" fill="#111"  stroke="#111" stroke-width="0.12">R1020G</text>
<text x="385.20" y="436.40" font-size="6.2" font-weight="bold" text-anchor="end" fill="#111"  stroke="#111" stroke-width="0.12">A1072S</text>
<text x="392.30" y="442.60" font-size="6.2" font-weight="bold" text-anchor="start" fill="#111"  stroke="#111" stroke-width="0.12">R1020L</text>
<text x="421.00" y="449.60" font-size="6.2" font-weight="bold" text-anchor="end" fill="#111"  stroke="#111" stroke-width="0.12">T140K</text>
<text x="424.10" y="456.00" font-size="6.2" font-weight="bold" text-anchor="end" fill="#111"  stroke="#111" stroke-width="0.12">T140R</text>
<text x="368.10" y="451.30" font-size="6.2" font-weight="bold" text-anchor="end" fill="#111"  stroke="#111" stroke-width="0.12">A1072D</text>
<text x="393.00" y="465.50" font-size="6.2" font-weight="bold" text-anchor="start" fill="#111"  stroke="#111" stroke-width="0.12">I1135T</text>
<text x="369.10" y="472.50" font-size="6.2" font-weight="bold" text-anchor="start" fill="#111"  stroke="#111" stroke-width="0.12">D1093N</text>
<text x="358.60" y="475.60" font-size="6.2" font-weight="bold" text-anchor="end" fill="#111"  stroke="#111" stroke-width="0.12">R570Q</text>
<text x="363.80" y="487.70" font-size="6.2" font-weight="bold" text-anchor="end" fill="#111"  stroke="#111" stroke-width="0.12">Q1139K</text>
<text x="358.60" y="497.60" font-size="6.2" font-weight="bold" text-anchor="start" fill="#111"  stroke="#111" stroke-width="0.12">P1092L</text>
<text x="393.00" y="490.90" font-size="6.2" font-weight="bold" text-anchor="start" fill="#111"  stroke="#111" stroke-width="0.12">G1094R</text>
<text x="445.60" y="474.00" font-size="6.2" font-weight="bold" text-anchor="start" fill="#111"  stroke="#111" stroke-width="0.12">R139W</text>
<text x="455.60" y="383.70" font-size="6.2" font-weight="bold" text-anchor="end" fill="#111"  stroke="#111" stroke-width="0.12">R456L</text>
<text x="461.90" y="390.10" font-size="6.2" font-weight="bold" text-anchor="start" fill="#111"  stroke="#111" stroke-width="0.12">WT</text>
<text x="443.50" y="403.50" font-size="6.2" font-weight="bold" text-anchor="start" fill="#111"  stroke="#111" stroke-width="0.12">F581V</text>
<text x="445.00" y="411.80" font-size="6.2" font-weight="bold" text-anchor="start" fill="#111"  stroke="#111" stroke-width="0.12">W1012R</text>
<text x="478.10" y="382.40" font-size="6.2" font-weight="bold" text-anchor="start" fill="#111"  stroke="#111" stroke-width="0.12">L1527L</text>
<text x="489.20" y="403.20" font-size="6.2" font-weight="bold" text-anchor="start" fill="#111"  stroke="#111" stroke-width="0.12">T1361N</text>
<text x="488.80" y="418.00" font-size="6.2" font-weight="bold" text-anchor="start" fill="#111"  stroke="#111" stroke-width="0.12">K1029M</text>
</svg>
</body></html>
